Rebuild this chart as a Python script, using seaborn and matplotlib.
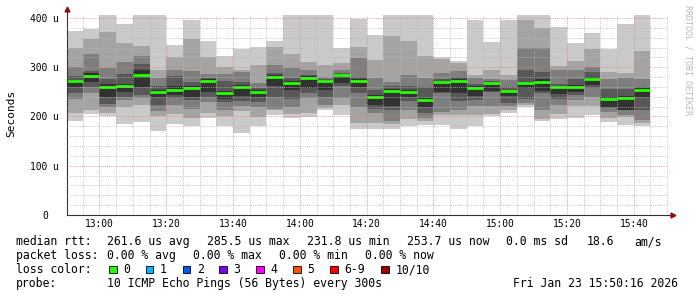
import matplotlib
matplotlib.use("Agg")
import matplotlib.pyplot as plt
from matplotlib.ticker import MultipleLocator
from matplotlib.patches import Rectangle
import seaborn as sns
import pandas as pd

# ---------------- data ----------------
# end time of each 5-minute smokeping step
bar_end = ["12:55", "13:00", "13:05", "13:10", "13:15", "13:20", "13:25", "13:30", "13:35",
           "13:40", "13:45", "13:50", "13:55", "14:00", "14:05", "14:10", "14:15", "14:20",
           "14:25", "14:30", "14:35", "14:40", "14:45", "14:50", "14:55", "15:00", "15:05",
           "15:10", "15:15", "15:20", "15:25", "15:30", "15:35", "15:40", "15:45"]

# sorted ping RTTs (microseconds), rank 1 (fastest) .. rank 10 (slowest)
ping_1 = [190, 206, 201, 185, 188, 171, 185, 181, 197, 181, 167, 180, 203, 196, 199, 213, 202, 175,
          175, 175, 180, 183, 183, 175, 181, 200, 208, 219, 191, 194, 197, 203, 188, 183, 180]
ping_2 = [208, 214, 207, 219, 224, 200, 206, 197, 207, 200, 212, 199, 214, 205, 207, 218, 224, 187,
          187, 185, 194, 190, 202, 202, 202, 205, 214, 224, 195, 206, 221, 222, 196, 198, 186]
ping_3 = [236, 248, 220, 234, 238, 211, 224, 216, 229, 214, 222, 219, 216, 219, 238, 224, 238, 219,
          207, 190, 214, 197, 210, 214, 221, 221, 221, 228, 213, 224, 233, 240, 210, 202, 192]
ping_4 = [248, 260, 226, 240, 244, 223, 238, 234, 240, 229, 231, 229, 240, 235, 248, 240, 262, 248,
          216, 214, 231, 207, 248, 231, 234, 249, 227, 235, 248, 235, 244, 258, 218, 213, 214]
ping_5 = [259, 270, 240, 250, 260, 240, 244, 240, 249, 235, 241, 240, 261, 254, 258, 254, 267, 260,
          224, 221, 240, 219, 249, 248, 242, 251, 242, 257, 252, 245, 250, 263, 220, 214, 239]
ping_6 = [274, 288, 266, 266, 295, 254, 262, 262, 276, 252, 264, 254, 284, 272, 282, 275, 287, 277,
          244, 255, 254, 237, 273, 276, 262, 271, 254, 271, 276, 262, 264, 280, 240, 242, 257]
ping_7 = [282, 293, 276, 287, 307, 262, 283, 271, 278, 273, 271, 258, 288, 278, 285, 277, 288, 281,
          253, 262, 262, 260, 276, 281, 265, 272, 260, 294, 290, 266, 277, 291, 255, 255, 260]
ping_8 = [301, 326, 298, 310, 323, 278, 295, 292, 287, 287, 290, 268, 305, 298, 295, 281, 295, 319,
          278, 271, 285, 278, 288, 293, 278, 277, 275, 340, 338, 294, 294, 301, 276, 279, 277]
ping_9 = [340, 358, 372, 350, 344, 294, 320, 358, 320, 300, 295, 305, 341, 326, 310, 305, 309, 341,
          314, 364, 353, 322, 316, 309, 285, 294, 285, 395, 380, 303, 313, 336, 291, 289, 332]
ping_10 = [374, 377, 415, 388, 415, 415, 346, 395, 354, 322, 336, 341, 354, 415, 415, 415, 339, 397,
           366, 415, 415, 415, 321, 312, 395, 351, 395, 415, 415, 382, 349, 370, 337, 388, 415]
median_rtt = [273, 283, 260, 261, 284, 249, 253, 257, 272, 248, 260, 250, 280, 268, 278, 272, 285, 273,
              240, 251, 250, 233, 270, 272, 258, 268, 251, 268, 271, 260, 260, 276, 236, 238, 254]

x_tick_labels = ["13:00", "13:20", "13:40", "14:00", "14:20", "14:40", "15:00", "15:20", "15:40"]
y_ticks = [0, 100, 200, 300, 400]
y_tick_labels = ["0", "100 u", "200 u", "300 u", "400 u"]
graph_start, graph_end = "12:50:16", "15:50:16"
step_minutes = 5

loss_labels = ["0", "1", "2", "3", "4", "5", "6-9", "10/10"]
loss_colors = ["#26ff00", "#00b8ff", "#0059ff", "#7e00ff", "#ff00ff", "#ff5500", "#ff0000", "#a10000"]
smoke_colors = ["#cacaca", "#a4a4a4", "#7e7e7e", "#585858", "#323232"]


def to_min(s):
    parts = [float(p) for p in s.split(":")]
    return (parts[0] - 12) * 60 + parts[1] + (parts[2] / 60 if len(parts) > 2 else 0)


pings = [ping_1, ping_2, ping_3, ping_4, ping_5, ping_6, ping_7, ping_8, ping_9, ping_10]
df = pd.DataFrame({"end": [to_min(t) for t in bar_end], "median": median_rtt})
df["start"] = df["end"] - step_minutes

# ---------------- figure ----------------
sns.set_theme(style="white")
plt.rcParams["font.family"] = ["DejaVu Sans Mono"]

W, H = 697, 297
fig = plt.figure(figsize=(W / 100, H / 100), dpi=100)
fig.patch.set_facecolor("white")
L, R, T, B = 67, 668, 15, 215
ax = fig.add_axes([L / W, 1 - B / H, (R - L) / W, (B - T) / H])
ax.set_facecolor("white")

# smoke layers: layer k spans ping k .. ping 11-k
for k in range(5):
    lo = pd.Series(pings[k])
    hi = pd.Series(pings[9 - k])
    ax.bar(df["start"], hi - lo, bottom=lo, width=step_minutes, align="edge",
           color=smoke_colors[k], linewidth=0, zorder=1)

# median line
ax.hlines(df["median"], df["start"], df["end"], colors=loss_colors[0], linewidth=2.0, zorder=2)

ax.set_xlim(to_min(graph_start), to_min(graph_end))
ax.set_ylim(0, 406)

ax.set_xticks([to_min(t) for t in x_tick_labels], x_tick_labels)
ax.xaxis.set_minor_locator(MultipleLocator(step_minutes))
ax.set_yticks(y_ticks, y_tick_labels)
ax.yaxis.set_minor_locator(MultipleLocator(20))

ax.set_axisbelow(False)
ax.grid(which="minor", color="#b8b8b8", linestyle=(0, (1, 1.5)), linewidth=0.6, zorder=3)
ax.grid(which="major", color="#e08080", linestyle=(0, (1, 1.5)), linewidth=0.6, zorder=3)

for s in ["top", "right"]:
    ax.spines[s].set_visible(False)
for s in ["left", "bottom"]:
    ax.spines[s].set_color("#333333")
    ax.spines[s].set_linewidth(0.8)

ax.tick_params(axis="both", which="both", direction="out", length=1.5, width=0.6, color="#333333",
               labelsize=6.9, labelcolor="#000000")
ax.tick_params(axis="x", which="major", pad=1.2)
ax.tick_params(axis="y", which="major", pad=14.5)
for lab in ax.get_yticklabels():
    lab.set_horizontalalignment("center")

# axis arrows
ax.plot([0, 0], [1.0, 1.02], transform=ax.transAxes, color="#333333", lw=0.8, clip_on=False)
ax.plot([1.0, 1.005], [0, 0], transform=ax.transAxes, color="#333333", lw=0.8, clip_on=False)
ax.plot([0], [1.03], transform=ax.transAxes, marker="^", color="#8b1010", markersize=3.5, clip_on=False)
ax.plot([1.008], [0], transform=ax.transAxes, marker=">", color="#8b1010", markersize=3.5, clip_on=False)


def px(x, y):
    return x / W, 1 - y / H


fig.text(*px(10.8, 113.5), "Seconds", rotation=90, ha="center", va="center", fontsize=8, color="#000000")
fig.text(*px(687.7, 5), "RRDTOOL / TOBI OETIKER", rotation=270, ha="center", va="top",
         fontsize=6, color="#b8b8b8")

fs = 8.3
rows = [
    (245.3, [(16, "median rtt:"), (107.3, "261.6 us avg"), (207.3, "285.5 us max"), (307.3, "231.8 us min"),
             (407.0, "253.7 us now"), (506.3, "0.0 ms sd"), (586.3, "18.6"), (634.3, "am/s")]),
    (259.3, [(16, "packet loss:"), (107.3, "0.00 % avg"), (193.3, "0.00 % max"), (279.3, "0.00 % min"),
             (365.3, "0.00 % now")]),
    (273.3, [(16, "loss color:")]),
    (287.3, [(16, "probe:"), (107.3, "10 ICMP Echo Pings (56 Bytes) every 300s"),
             (513.0, "Fri Jan 23 15:50:16 2026")]),
]
for y, items in rows:
    for x, txt in items:
        fig.text(*px(x, y), txt, ha="left", va="baseline", fontsize=fs, color="#000000")

box_left = [109, 145.7, 182.7, 219.3, 256, 293.3, 330, 381.3]
for bx, lab, col in zip(box_left, loss_labels, loss_colors):
    x0, y0 = px(bx, 273)
    fig.patches.append(Rectangle((x0, y0), 7.5 / W, 7.5 / H, transform=fig.transFigure,
                                 facecolor=col, edgecolor="#000000", linewidth=0.6))
    fig.text(*px(bx + 14.3, 273.3), lab, ha="left", va="baseline", fontsize=fs, color="#000000")

fig.savefig("out.png", dpi=100, facecolor="white")
